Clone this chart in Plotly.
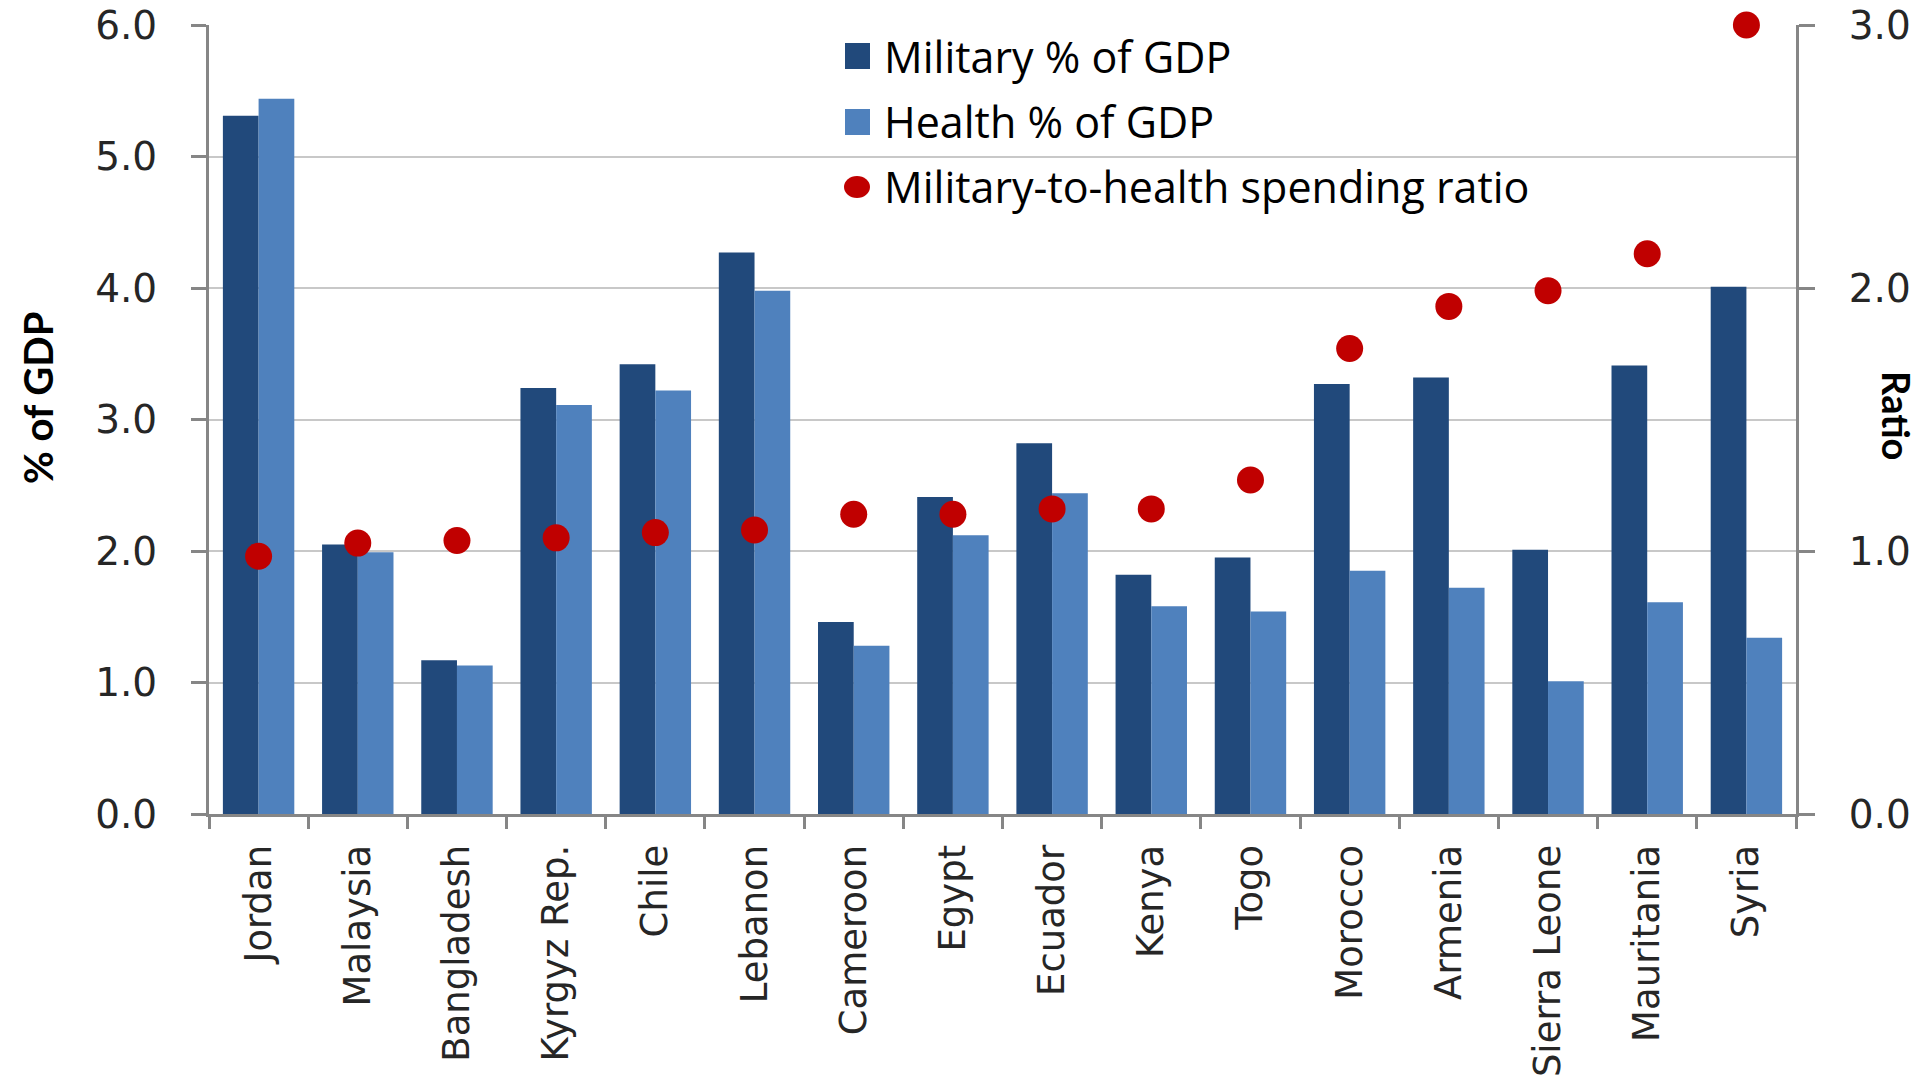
import plotly.graph_objects as go

# Data: military and health spending (% of GDP) and their ratio
countries = ["Jordan", "Malaysia", "Bangladesh", "Kyrgyz Rep.", "Chile", "Lebanon",
             "Cameroon", "Egypt", "Ecuador", "Kenya", "Togo", "Morocco", "Armenia",
             "Sierra Leone", "Mauritania", "Syria"]
military = [5.31, 2.05, 1.17, 3.24, 3.42, 4.27, 1.46, 2.41, 2.82, 1.82, 1.95, 3.27, 3.32, 2.01, 3.41, 4.01]
health = [5.44, 1.99, 1.13, 3.11, 3.22, 3.98, 1.28, 2.12, 2.44, 1.58, 1.54, 1.85, 1.72, 1.01, 1.61, 1.34]
ratio = [0.98, 1.03, 1.04, 1.05, 1.07, 1.08, 1.14, 1.14, 1.16, 1.16, 1.27, 1.77, 1.93, 1.99, 2.13, 3.00]

left_ticks = [0, 1, 2, 3, 4, 5, 6]
right_ticks = [0, 1, 2, 3]

C_MIL = "#21497B"
C_HEALTH = "#4F81BD"
C_RATIO = "#C00000"
AXIS_GREY = "#868686"
GRID_GREY = "#C8C8C8"
TXT = "#262626"

W, H = 1920, 1080
ML, MR, MT, MB = 209, 124, 25, 266
PW, PH = W - ML - MR, H - MT - MB


def px_x(x):
    return (x - ML) / PW


def px_y(y):
    return (H - MB - y) / PH


fig = go.Figure()
fig.add_trace(go.Bar(x=countries, y=military, name="Military % of GDP",
                     marker=dict(color=C_MIL, line=dict(width=0)), showlegend=False))
fig.add_trace(go.Bar(x=countries, y=health, name="Health % of GDP",
                     marker=dict(color=C_HEALTH, line=dict(width=0)), showlegend=False))
fig.add_trace(go.Scatter(x=countries, y=ratio, name="Military-to-health spending ratio",
                         mode="markers", yaxis="y2", cliponaxis=False,
                         marker=dict(color=C_RATIO, size=27, line=dict(width=0)),
                         showlegend=False))

x_font = dict(family="DejaVu Sans", size=37, color=TXT)
y_font = dict(family="DejaVu Sans", size=39, color=TXT)

fig.update_layout(
    width=W, height=H,
    margin=dict(l=ML, r=MR, t=MT, b=MB),
    paper_bgcolor="white", plot_bgcolor="white",
    barmode="group", bargap=0.28, bargroupgap=0,
    xaxis=dict(
        type="category", range=[-0.5, len(countries) - 0.5], autorange=False,
        automargin=False, tickson="boundaries", ticks="outside", ticklen=12,
        tickwidth=3, tickcolor=AXIS_GREY, showline=True, linecolor=AXIS_GREY,
        linewidth=3, showgrid=False, tickangle=-90, tickfont=x_font,
        ticklabelstandoff=13,
    ),
    yaxis=dict(
        range=[0, 6], autorange=False, automargin=False, tickvals=left_ticks,
        tickformat=".1f", ticks="outside", ticklen=15, tickwidth=3,
        tickcolor=AXIS_GREY, showline=True, linecolor=AXIS_GREY, linewidth=3,
        showgrid=True, gridcolor=GRID_GREY, gridwidth=2, zeroline=False,
        tickfont=y_font, ticklabelstandoff=26,
    ),
    yaxis2=dict(
        range=[0, 3], autorange=False, automargin=False, tickvals=right_ticks,
        tickformat=".1f", overlaying="y", side="right", ticks="outside",
        ticklen=16, tickwidth=3, tickcolor=AXIS_GREY, showline=True,
        linecolor=AXIS_GREY, linewidth=3, showgrid=False, zeroline=False,
        tickfont=y_font, ticklabelstandoff=26,
    ),
    showlegend=False,
)

# Axis titles
fig.add_annotation(text="<b>% of GDP</b>", xref="paper", yref="paper",
                   x=px_x(38), y=px_y(398), textangle=-90, showarrow=False,
                   xanchor="center", yanchor="middle",
                   font=dict(family="Lato", size=40, color="black"))
fig.add_annotation(text="<b>Ratio</b>", xref="paper", yref="paper",
                   x=px_x(1897), y=px_y(415), textangle=90, showarrow=False,
                   xanchor="center", yanchor="middle",
                   font=dict(family="Lato", size=38, color="black"))

# Legend: swatches and labels
legend_rows = [
    ("Military % of GDP", C_MIL, "rect", 56),
    ("Health % of GDP", C_HEALTH, "rect", 122),
    ("Military-to-health spending ratio", C_RATIO, "circle", 187),
]
for label, color, kind, cy in legend_rows:
    if kind == "rect":
        fig.add_shape(type="rect", xref="paper", yref="paper",
                      x0=px_x(845), x1=px_x(870), y0=px_y(cy + 13), y1=px_y(cy - 13),
                      fillcolor=color, line=dict(width=0))
    else:
        fig.add_shape(type="circle", xref="paper", yref="paper",
                      x0=px_x(844), x1=px_x(870), y0=px_y(cy + 11), y1=px_y(cy - 11),
                      fillcolor=color, line=dict(width=0))
    fig.add_annotation(text=label, xref="paper", yref="paper",
                       x=px_x(882), y=px_y(cy), xanchor="left", yanchor="middle",
                       showarrow=False,
                       font=dict(family="Open Sans", size=43, color="black"))

fig.write_html("out.html")
